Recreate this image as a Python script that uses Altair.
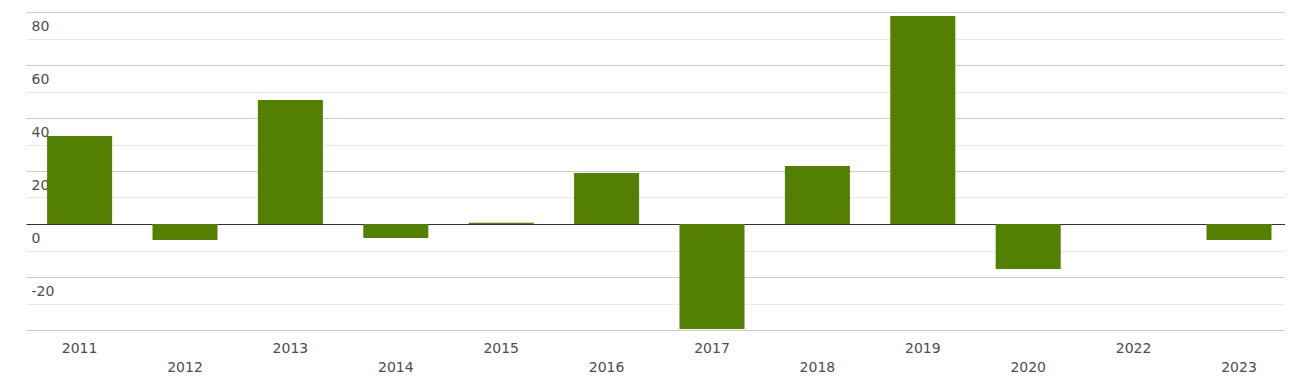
import altair as alt
import pandas as pd

years = ["2011", "2012", "2013", "2014", "2015", "2016", "2017", "2018", "2019", "2020", "2022", "2023"]
values = [33.2, -6.0, 46.8, -5.3, 0.5, 19.2, -39.6, 21.9, 78.5, -17.0, 0.0, -6.0]
lower_row = years[1::2]

df = pd.DataFrame({"year": years, "value": values})

y_ticks = list(range(-40, 81, 10))
lower_list = "[" + ",".join("'" + y + "'" for y in lower_row) + "]"

bars = alt.Chart(df).mark_bar(color="#548000").encode(
    x=alt.X(
        "year:N",
        sort=years,
        scale=alt.Scale(paddingInner=0.383, paddingOuter=0.164, align=0.61),
        axis=alt.Axis(
            title=None,
            domain=False,
            ticks=False,
            labelAngle=0,
            labelFont="DejaVu Sans",
            labelFontSize=14,
            labelColor="#4d4d4d",
            labelPadding={"condition": {"test": "indexof(" + lower_list + ", datum.label) >= 0", "value": 30}, "value": 11},
        ),
    ),
    y=alt.Y(
        "value:Q",
        scale=alt.Scale(domain=[-40, 80], nice=False, zero=False),
        axis=alt.Axis(
            title=None,
            domain=False,
            ticks=False,
            values=y_ticks,
            grid=True,
            gridColor={
                "condition": [
                    {"test": "datum.value == 0", "value": "#333333"},
                    {"test": "datum.value % 20 == 0", "value": "#cccccc"},
                ],
                "value": "#e9e9e9",
            },
            labelExpr="(datum.value % 20 == 0 && datum.value > -40) ? toString(datum.value) : ''",
            labelAlign="left",
            labelBaseline="top",
            labelPadding=-5,
            labelOffset=7,
            labelFont="DejaVu Sans",
            labelFontSize=14,
            labelColor="#4d4d4d",
        ),
    ),
)

chart = (
    bars
    .properties(
        width=1259,
        height=318,
        autosize=alt.AutoSizeParams(type="none"),
        padding={"left": 18, "top": 4, "right": 0, "bottom": 46},
    )
    .configure_view(stroke=None)
)

chart.save("out.html", embed_options={"renderer": "svg", "actions": False})
